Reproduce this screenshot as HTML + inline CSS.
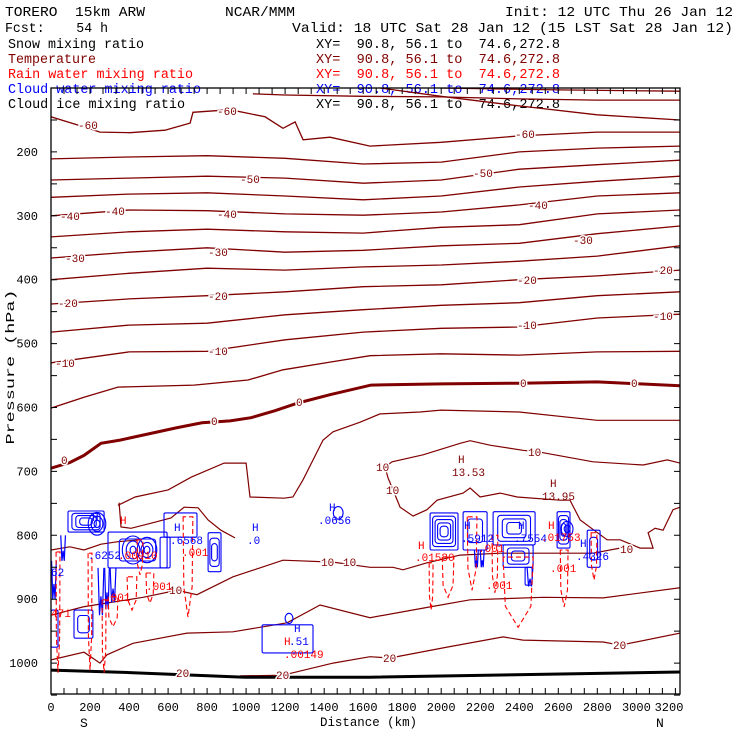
<!DOCTYPE html>
<html><head><meta charset="utf-8"><style>
html,body{margin:0;padding:0;background:#fff;}
svg{display:block;}
text{font-family:"Liberation Mono","DejaVu Sans Mono",monospace;white-space:pre;}
.cl{font-size:11px;fill:#800000;stroke:#fff;stroke-width:3px;paint-order:stroke;}
.bl{font-size:11px;fill:#0000ff;}
.rd{font-size:11px;fill:#ff0000;}
.dr{font-size:11px;fill:#800000;}
</style></head><body>
<svg id="chart" width="740" height="740" viewBox="0 0 740 740" xmlns="http://www.w3.org/2000/svg" xml:space="preserve">
<rect x="0" y="0" width="740" height="740" fill="#fff"/>
<g id="titles">
<text x="5" y="16" font-size="14" textLength="140" lengthAdjust="spacingAndGlyphs">TORERO  15km ARW</text>
<text x="225" y="16" font-size="14" textLength="70" lengthAdjust="spacingAndGlyphs">NCAR/MMM</text>
<text x="505" y="16" font-size="14" textLength="228" lengthAdjust="spacingAndGlyphs">Init: 12 UTC Thu 26 Jan 12</text>
<text x="5" y="32" font-size="14" textLength="103" lengthAdjust="spacingAndGlyphs">Fcst:    54 h</text>
<text x="292" y="32" font-size="14" textLength="441" lengthAdjust="spacingAndGlyphs">Valid: 18 UTC Sat 28 Jan 12 (15 LST Sat 28 Jan 12)</text>
<text x="8" y="48" font-size="13.5" textLength="136" lengthAdjust="spacingAndGlyphs" fill="#000">Snow mixing ratio</text>
<text x="8" y="63" font-size="13.5" textLength="88" lengthAdjust="spacingAndGlyphs" fill="#800000">Temperature</text>
<text x="8" y="78" font-size="13.5" textLength="185" lengthAdjust="spacingAndGlyphs" fill="#ff0000">Rain water mixing ratio</text>
<text x="8" y="93" font-size="13.5" textLength="193" lengthAdjust="spacingAndGlyphs" fill="#0000ff">Cloud water mixing ratio</text>
<text x="8" y="108" font-size="13.5" textLength="177" lengthAdjust="spacingAndGlyphs" fill="#000">Cloud ice mixing ratio</text>
<text x="316" y="48" font-size="13.5" textLength="244" lengthAdjust="spacingAndGlyphs" fill="#000">XY=  90.8, 56.1 to  74.6,272.8</text>
<text x="316" y="63" font-size="13.5" textLength="244" lengthAdjust="spacingAndGlyphs" fill="#800000">XY=  90.8, 56.1 to  74.6,272.8</text>
<text x="316" y="78" font-size="13.5" textLength="244" lengthAdjust="spacingAndGlyphs" fill="#ff0000">XY=  90.8, 56.1 to  74.6,272.8</text>
<text x="316" y="93" font-size="13.5" textLength="244" lengthAdjust="spacingAndGlyphs" fill="#0000ff">XY=  90.8, 56.1 to  74.6,272.8</text>
<text x="316" y="108" font-size="13.5" textLength="244" lengthAdjust="spacingAndGlyphs" fill="#000">XY=  90.8, 56.1 to  74.6,272.8</text>
</g>
<g id="marks"></g>
<g id="annot">
<text class="cl" x="78" y="129">-60</text><text class="cl" x="217" y="115">-60</text><text class="cl" x="515" y="138">-60</text>
<text class="cl" x="240" y="183">-50</text><text class="cl" x="473" y="177">-50</text>
<text class="cl" x="60" y="220">-40</text><text class="cl" x="105" y="215">-40</text><text class="cl" x="217" y="218">-40</text><text class="cl" x="528" y="209">-40</text>
<text class="cl" x="65" y="262">-30</text><text class="cl" x="208" y="256">-30</text><text class="cl" x="573" y="244">-30</text>
<text class="cl" x="58" y="307">-20</text><text class="cl" x="208" y="300">-20</text><text class="cl" x="517" y="284">-20</text><text class="cl" x="653" y="274">-20</text>
<text class="cl" x="55" y="367">-10</text><text class="cl" x="208" y="355">-10</text><text class="cl" x="517" y="329">-10</text><text class="cl" x="653" y="320">-10</text>
<text class="cl" x="61" y="464">0</text><text class="cl" x="211" y="425">0</text><text class="cl" x="296" y="406">0</text><text class="cl" x="520" y="387">0</text><text class="cl" x="631" y="387">0</text>
<text class="cl" x="376" y="471">10</text><text class="cl" x="386" y="494">10</text><text class="cl" x="528" y="456">10</text><text class="cl" x="620" y="553">10</text><text class="cl" x="169" y="594">10</text><text class="cl" x="321" y="566">10</text><text class="cl" x="343" y="566">10</text>
<text class="cl" x="176" y="677">20</text><text class="cl" x="276" y="679">20</text><text class="cl" x="383" y="662">20</text><text class="cl" x="613" y="649">20</text>
<text class="dr" x="458" y="463">H</text><text class="dr" x="452" y="476">13.53</text>
<text class="dr" x="550" y="487">H</text><text class="dr" x="542" y="500">13.95</text>
<text class="bl" x="92" y="521">H</text><text class="bl" x="88" y="559">.6252</text>
<text class="rd" x="120" y="524">H</text><text class="rd" x="118" y="559">.00910</text>
<text class="bl" x="174" y="531">H</text><text class="bl" x="170" y="544">.6568</text>
<text class="rd" x="182" y="556">.001</text><text class="rd" x="104" y="601">.001</text><text class="rd" x="146" y="590">.001</text>
<text class="bl" x="51" y="576">62</text><text class="rd" x="51" y="617">471</text>
<text class="bl" x="252" y="531">H</text><text class="bl" x="247" y="544">.0</text>
<text class="bl" x="329" y="511">H</text><text class="bl" x="318" y="524">.0656</text>
<text class="bl" x="294" y="632">H</text><text class="rd" x="284" y="645">H</text><text class="bl" x="289" y="645">.51</text><text class="rd" x="284" y="658">.00149</text>
<text class="rd" x="418" y="549">H</text><text class="rd" x="415" y="561">.01580</text>
<text class="bl" x="464" y="529">H</text><text class="bl" x="461" y="542">.5912</text><text class="rd" x="478" y="552">.001</text>
<text class="bl" x="518" y="529">H</text><text class="bl" x="514" y="542">.7554</text><text class="rd" x="541" y="541">.01753</text><text class="rd" x="548" y="529">H</text>
<text class="bl" x="580" y="547">H</text><text class="bl" x="576" y="560">.4326</text>
<text class="rd" x="486" y="589">.001</text><text class="rd" x="550" y="572">.001</text>
</g>
<g id="axes">
<text x="14" y="367" font-size="12" text-anchor="middle" transform="rotate(-90 14 367)" textLength="155" lengthAdjust="spacingAndGlyphs">Pressure (hPa)</text>
<text x="320" y="726" font-size="12.5" textLength="97" lengthAdjust="spacingAndGlyphs">Distance (km)</text>
<text x="80" y="727" font-size="13">S</text>
<text x="656" y="727" font-size="13">N</text>
</g>
</svg>
<script>
// ---- data ----
const xTicks = [0,200,400,600,800,1000,1200,1400,1600,1800,2000,2200,2400,2600,2800,3000,3200];
const yTicks = [200,300,400,500,600,700,800,900,1000];
const colDist = [0,400,800,1200,1600,2000,2400,2800,3224];
const isoLevels = [-55,-50,-45,-40,-35,-30,-25,-20,-15,-10];
const isoM55 = [211,208,206,210,219,216,200,194,191];
const isoM50 = [244,241,238,241,249,244,227,220,213];
const isoM45 = [271,266,264,269,275,269,255,246,238];
const isoM40 = [300,291,292,297,299,294,283,269,264];
const isoM35 = [333,325,321,325,327,318,314,297,291];
const isoM30 = [366,357,350,357,354,347,343,328,316];
const isoM25 = [400,390,382,385,380,377,371,363,347];
const isoM20 = [438,430,425,419,411,408,400,394,385];
const isoM15 = [482,471,468,455,447,440,436,425,419];
const isoM10 = [530,513,512,494,482,476,474,460,454];
const m75Dist = [1994,2600,3224];
const m75Pres = [100,103,105];
const m70Dist = [1035,1199,1599,1999,2399,2799,3224];
const m70Pres = [109,111,113,114,117,119,119];
const m65Dist = [1686,1999,2399,2799,3224];
const m65Pres = [100,113,128,142,150];
const m60Dist = [0,149,251,405,584,713,728,918,1097,1189,1251,1292,1430,1635,1999,2399,2799,3224];
const m60Pres = [145,159,169,170,166,155,138,134,145,163,153,181,177,191,185,175,169,169];
const m5Dist = [0,169,343,733,1010,1189,1430,1635,1999,2399,2799,3224];
const m5Pres = [601,584,568,565,557,541,529,519,516,518,513,512];
const z0Dist = [0,97,169,256,354,518,641,774,918,1025,1148,1266,1430,1640,1999,2399,2799,3224];
const z0Pres = [695,686,675,656,651,640,632,624,621,616,605,593,580,565,563,562,560,566];
const p5Dist = [343,431,600,718,887,1000,1020,1194,1240,1292,1394,1446,1584,1686,1891,1999,2399,2799,3224];
const p5Pres = [753,740,729,709,687,687,740,742,740,713,651,638,623,610,607,604,607,620,620];
const p5bDist = [349,359,410,513,615,682,754,805,871,943];
const p5bPres = [749,787,789,781,773,756,757,776,792,804];
const p5cDist = [0,97,169,256,343,456];
const p5cPres = [823,818,823,814,810,807];
const p10Dist = [0,164,287,472,646,748,933,1189,1446,1635,1753,1804,1927,2096,2302,2778,2916];
const p10Pres = [925,912,906,897,886,893,865,839,842,850,850,854,843,831,828,828,820];
const pk10Dist = [3224,3158,3035,2778,2507,2419,2250,2148,2097,1907,1748,1712,1727,1753,1789,1856,1927,1979,2112,2148,2199,2302,2389,2609,2660,2712,2850,2917,3019,3086,3060,3096,3137,3188,3224];
const pk10Pres = [687,682,690,685,670,667,659,652,656,674,685,693,710,729,756,770,760,745,734,726,740,734,740,745,745,776,807,807,820,820,796,789,792,760,756];
const p15Dist = [0,169,251,287,420,697,933,1210,1379,1635,1943,2148,2522,2830,3224];
const p15Pres = [995,983,1000,987,969,953,951,937,909,929,912,901,897,898,882];
const p20Dist = [969,1189,1446,1635,1738,2030,2317,2419,2830,2917,3224];
const p20Pres = [1020,1019,1000,990,992,975,959,964,967,972,953];
const groundDist = [0,420,994,1635,3224];
const groundPres = [1011,1015,1022,1022,1014];
const cloudD0 = [87,292,579,559,805,0,118,1082,1943,2112,2266,2317,2430,2594,2748];
const cloudD1 = [272,595,748,610,871,36,215,1343,2086,2235,2481,2471,2466,2660,2814];
const cloudP0 = [762,795,765,803,796,917,917,940,765,763,763,815,850,763,792];
const cloudP1 = [795,851,803,851,857,975,961,984,823,823,815,850,878,820,850];
const cloudNest = [4,2,1,1,3,1,2,1,5,2,4,3,1,4,2];
const ringD = [236,236,236,420,420,420,492,492,492,1472,1220,2645,2645];
const ringP = [782,782,782,823,823,823,823,823,823,765,930,790,790];
const ringR = [15,30,45,15,35,55,15,30,50,25,20,15,30];
const plumeD = [256,287,318,2210,2180,2455,15,62];
const plumeHW = [15,12,15,10,10,15,12,12];
const plumeP0 = [851,851,851,823,823,850,840,800];
const plumeP1 = [925,915,905,850,850,880,900,840];
const rainD = [36,200,272,318,415,507,702,456,1948,2035,2158,2394,2630,2783,2275];
const rainHW = [10,10,10,25,25,20,25,15,10,30,25,77,20,15,15];
const rainP0 = [826,828,901,896,865,859,771,807,843,834,771,834,823,796,800];
const rainP1 = [1015,1011,1015,943,917,906,928,862,917,897,886,944,912,870,890];

// ---- scales ----
const X0=51, X1=680, Y0=88, Y1=694;
function xs(d){ return X0 + d*0.19512; }
function ys(p){ return Y0 + (p-100)*0.639; }
const NS='http://www.w3.org/2000/svg';
const marks=document.getElementById('marks');
function mk(tag, attrs){ const e=document.createElementNS(NS,tag); for(const k in attrs) e.setAttribute(k,attrs[k]); return e; }
function polyPath(ds, ps){ let s=''; for(let i=0;i<ds.length;i++){ s+=(i?'L':'M')+xs(ds[i]).toFixed(1)+','+ys(ps[i]).toFixed(1);} return s; }

const defs=mk('defs',{}); const cp=mk('clipPath',{id:'plotclip'}); cp.appendChild(mk('rect',{x:X0,y:Y0,width:X1-X0,height:Y1-Y0})); defs.appendChild(cp); marks.appendChild(defs);
const g=mk('g',{'clip-path':'url(#plotclip)'});


marks.appendChild(g);

function addLine(ds, ps, col, w, dash, name){
  const el=mk('path',{d:polyPath(ds,ps),fill:'none',stroke:col,'stroke-width':w});
  if(dash) el.setAttribute('stroke-dasharray',dash);
  
  
  g.appendChild(el);
}
const isoArrays=[isoM55,isoM50,isoM45,isoM40,isoM35,isoM30,isoM25,isoM20,isoM15,isoM10];
const TC='#800000';
addLine(m75Dist,m75Pres,TC,1.3,null,'isotherm-m75');
addLine(m70Dist,m70Pres,TC,1.3,null,'isotherm-m70');
addLine(m65Dist,m65Pres,TC,1.3,null,'isotherm-m65');
addLine(m60Dist,m60Pres,TC,1.3,null,'isotherm-m60');
for(let i=0;i<isoLevels.length;i++){ addLine(colDist,isoArrays[i],TC,1.3,null,'isotherm-m'+(-isoLevels[i])); }
addLine(m5Dist,m5Pres,TC,1.3,null,'isotherm-m5');
addLine(z0Dist,z0Pres,TC,3,null,'isotherm-0');
addLine(p5Dist,p5Pres,TC,1.2,null,'isotherm-5');
addLine(p5bDist,p5bPres,TC,1.2,null,'isotherm-5-b');
addLine(p5cDist,p5cPres,TC,1.2,null,'isotherm-5-c');
addLine(p10Dist,p10Pres,TC,1.2,null,'isotherm-10');
addLine(pk10Dist,pk10Pres,TC,1.2,null,'isotherm-10-pocket');
addLine(p15Dist,p15Pres,TC,1.2,null,'isotherm-15');
addLine(p20Dist,p20Pres,TC,1.2,null,'isotherm-20');
addLine(groundDist,groundPres,'#000',3,null,'terrain-line');

for(let i=0;i<cloudD0.length;i++){
  const n=cloudNest[i];
  for(let k=0;k<n;k++){
    const f=k/(n+0.6);
    const dw=(cloudD1[i]-cloudD0[i])*f/2, pw=(cloudP1[i]-cloudP0[i])*f/2;
    const x=xs(cloudD0[i]+dw), y=ys(cloudP0[i]+pw);
    const w=xs(cloudD1[i]-dw)-x, h=ys(cloudP1[i]-pw)-y;
    const r=mk('rect',{x:x.toFixed(1),y:y.toFixed(1),width:Math.max(w,1).toFixed(1),height:Math.max(h,1).toFixed(1),rx:k?3:1.5,fill:'none',stroke:'#0000ff','stroke-width':1.1});
    
    
    g.appendChild(r);
  }
}
for(let i=0;i<ringD.length;i++){
  const rr=ringR[i]*0.19512;
  const c=mk('ellipse',{cx:xs(ringD[i]).toFixed(1),cy:ys(ringP[i]).toFixed(1),rx:rr.toFixed(1),ry:(rr*1.3).toFixed(1),fill:'none',stroke:'#0000ff','stroke-width':1.1});
  
  
  g.appendChild(c);
}
for(let i=0;i<plumeD.length;i++){
  const d=plumeD[i], hw=plumeHW[i];
  const path='M'+xs(d-hw)+','+ys(plumeP0[i])+'L'+xs(d-hw*0.5)+','+ys(plumeP1[i])+'L'+xs(d)+','+ys(plumeP0[i]+(plumeP1[i]-plumeP0[i])*0.6)+'L'+xs(d+hw*0.5)+','+ys(plumeP1[i])+'L'+xs(d+hw)+','+ys(plumeP0[i]);
  const el=mk('path',{d:path,fill:'none',stroke:'#0000ff','stroke-width':1.2});
  
  
  g.appendChild(el);
}
for(let i=0;i<rainD.length;i++){
  const d=rainD[i], hw=rainHW[i], p0=rainP0[i], p1=rainP1[i];
  const path='M'+xs(d-hw)+','+ys(p0)+'L'+xs(d-hw*0.85)+','+ys(p0+(p1-p0)*0.7)+'L'+xs(d)+','+ys(p1)+'L'+xs(d+hw*0.85)+','+ys(p0+(p1-p0)*0.7)+'L'+xs(d+hw)+','+ys(p0)+'Z';
  const el=mk('path',{d:path,fill:'none',stroke:'#ff0000','stroke-width':1.1,'stroke-dasharray':'5,3'});
  
  
  g.appendChild(el);
}

const axes=document.getElementById('axes');
const frame=mk('rect',{x:X0,y:Y0,width:X1-X0,height:Y1-Y0,fill:'none',stroke:'#000','stroke-width':1.3});


axes.appendChild(frame);
let tk='';
for(let d=0; d<=3224; d+=200/3){ const x=xs(d).toFixed(1); tk+='M'+x+','+Y1+'v-6M'+x+','+Y0+'v6'; }
for(let p=150; p<=1050; p+=50){ const y=ys(p).toFixed(1); tk+='M'+X0+','+y+'h6M'+X1+','+y+'h-6'; }
const tickPath=mk('path',{d:tk,stroke:'#000','stroke-width':1,fill:'none'});


axes.appendChild(tickPath);
for(const d of xTicks){
  const t=mk('text',{x:Math.min(xs(d),669).toFixed(1),y:711,'font-size':12,'text-anchor':'middle'});
  t.textContent=String(d);
  
  
  axes.appendChild(t);
}
for(const p of yTicks){
  const t=mk('text',{x:38,y:(ys(p)+4).toFixed(1),'font-size':12,'text-anchor':'end'});
  t.textContent=String(p);
  
  
  axes.appendChild(t);
}
document.querySelectorAll('#annot text').forEach(function(t){
  
  
});
</script>
</body></html>
